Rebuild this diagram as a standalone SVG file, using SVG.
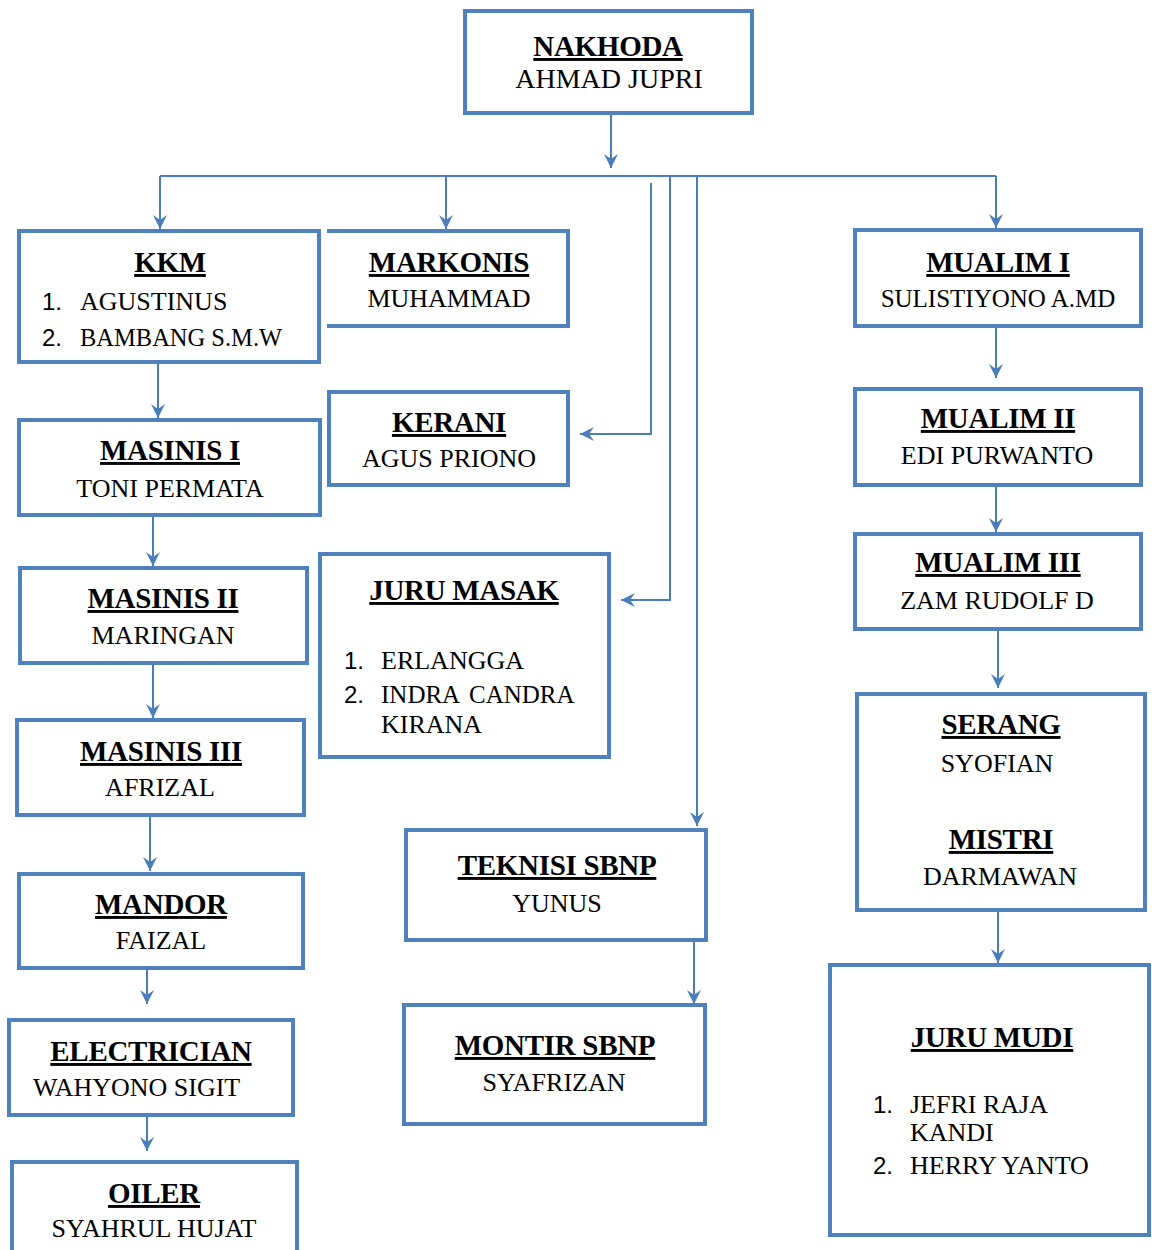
<svg xmlns="http://www.w3.org/2000/svg" width="1152" height="1250" viewBox="0 0 1152 1250">
<style>
.box{fill:#fff;stroke:#4F81BD;stroke-width:4}
.conn{fill:none;stroke:#4A7EBB;stroke-width:2}
.title{font-family:"Liberation Serif",serif;font-weight:bold;font-size:29px;text-anchor:middle;text-decoration:underline;text-decoration-thickness:3px;fill:#000;letter-spacing:-0.3px}
.name{font-family:"Liberation Serif",serif;font-size:26px;fill:#000}
.c{text-anchor:middle}
.num{font-family:"Liberation Sans",sans-serif;font-size:24px;fill:#000}
</style>
<defs>
<marker id="arr" markerUnits="userSpaceOnUse" markerWidth="16" markerHeight="16" refX="14" refY="7" orient="auto">
<path d="M0,0 L14,7 L0,14 L5,7 Z" fill="#4A7EBB"/>
</marker>
</defs>
<rect width="1152" height="1250" fill="#fff"/>
<g id="connectors">
<path class="conn" d="M611,113 V168" marker-end="url(#arr)"/>
<path class="conn" d="M160,176 H996"/>
<path class="conn" d="M160,176 V229" marker-end="url(#arr)"/>
<path class="conn" d="M446,176 V229" marker-end="url(#arr)"/>
<path class="conn" d="M651,183 V434 H580" marker-end="url(#arr)"/>
<path class="conn" d="M670,176 V600 H621" marker-end="url(#arr)"/>
<path class="conn" d="M697,176 V826" marker-end="url(#arr)"/>
<path class="conn" d="M996,176 V228" marker-end="url(#arr)"/>
<path class="conn" d="M158,363 V418" marker-end="url(#arr)"/>
<path class="conn" d="M153,512 V566" marker-end="url(#arr)"/>
<path class="conn" d="M153,664 V718" marker-end="url(#arr)"/>
<path class="conn" d="M150,812 V871" marker-end="url(#arr)"/>
<path class="conn" d="M147,960 V1004" marker-end="url(#arr)"/>
<path class="conn" d="M147,1105 V1151" marker-end="url(#arr)"/>
<path class="conn" d="M694,934 V1004" marker-end="url(#arr)"/>
<path class="conn" d="M996,322 V378" marker-end="url(#arr)"/>
<path class="conn" d="M996,478 V532" marker-end="url(#arr)"/>
<path class="conn" d="M998,631 V688" marker-end="url(#arr)"/>
<path class="conn" d="M998,912 V963" marker-end="url(#arr)"/>
</g>
<g id="nakhoda">
<rect class="box" x="465" y="11" width="287" height="102"/>
<text class="title" x="608" y="56">NAKHODA</text>
<text class="name c" x="609" y="88" style="font-size:28px">AHMAD JUPRI</text>
</g>
<g id="kkm">
<rect class="box" x="19" y="231" width="300" height="131"/>
<text class="title" x="170" y="272">KKM</text>
<text class="num" x="42" y="310">1.</text>
<text class="name" x="80" y="310">AGUSTINUS</text>
<text class="num" x="42" y="346">2.</text>
<text class="name" x="80" y="346" style="font-size:24.5px">BAMBANG S.M.W</text>
</g>
<g id="markonis">
<path class="box" d="M327,231 H568 V326 H327"/>
<text class="title" x="449" y="272">MARKONIS</text>
<text class="name c" x="449" y="307">MUHAMMAD</text>
</g>
<g id="kerani">
<rect class="box" x="329" y="392" width="239" height="93"/>
<text class="title" x="449" y="432">KERANI</text>
<text class="name c" x="449" y="467">AGUS PRIONO</text>
</g>
<g id="masinis1">
<rect class="box" x="19" y="420" width="301" height="95"/>
<text class="title" x="170" y="460">MASINIS I</text>
<text class="name c" x="170" y="497">TONI PERMATA</text>
</g>
<g id="masinis2">
<rect class="box" x="20" y="568" width="287" height="95"/>
<text class="title" x="163" y="608">MASINIS II</text>
<text class="name c" x="163" y="644">MARINGAN</text>
</g>
<g id="masinis3">
<rect class="box" x="17" y="720" width="287" height="95"/>
<text class="title" x="161" y="761">MASINIS III</text>
<text class="name c" x="160" y="796">AFRIZAL</text>
</g>
<g id="mandor">
<rect class="box" x="19" y="874" width="284" height="94"/>
<text class="title" x="161" y="914">MANDOR</text>
<text class="name c" x="161" y="949">FAIZAL</text>
</g>
<g id="electrician">
<rect class="box" x="9" y="1020" width="284" height="95"/>
<text class="title" x="151" y="1061">ELECTRICIAN</text>
<text class="name" x="33" y="1096">WAHYONO SIGIT</text>
</g>
<g id="oiler">
<rect class="box" x="12" y="1162" width="285" height="100"/>
<text class="title" x="154" y="1203">OILER</text>
<text class="name c" x="154" y="1237">SYAHRUL HUJAT</text>
</g>
<g id="juru-masak">
<rect class="box" x="320" y="554" width="289" height="203"/>
<text class="title" x="464" y="600">JURU MASAK</text>
<text class="num" x="344" y="669">1.</text>
<text class="name" x="381" y="669">ERLANGGA</text>
<text class="num" x="344" y="703">2.</text>
<text class="name" x="381" y="703" style="word-spacing:4px;font-size:25px">INDRA CANDRA</text>
<text class="name" x="381" y="733">KIRANA</text>
</g>
<g id="teknisi-sbnp">
<rect class="box" x="406" y="830" width="300" height="110"/>
<text class="title" x="557" y="875">TEKNISI SBNP</text>
<text class="name c" x="557" y="912">YUNUS</text>
</g>
<g id="montir-sbnp">
<rect class="box" x="404" y="1005" width="301" height="119"/>
<text class="title" x="555" y="1055">MONTIR SBNP</text>
<text class="name c" x="554" y="1091">SYAFRIZAN</text>
</g>
<g id="mualim1">
<rect class="box" x="855" y="230" width="286" height="96"/>
<text class="title" x="998" y="272">MUALIM I</text>
<text class="name c" x="998" y="307" style="font-size:25px">SULISTIYONO A.MD</text>
</g>
<g id="mualim2">
<rect class="box" x="855" y="389" width="286" height="96"/>
<text class="title" x="998" y="428">MUALIM II</text>
<text class="name c" x="997" y="464">EDI PURWANTO</text>
</g>
<g id="mualim3">
<rect class="box" x="855" y="534" width="286" height="95"/>
<text class="title" x="998" y="572">MUALIM III</text>
<text class="name c" x="997" y="609">ZAM RUDOLF D</text>
</g>
<g id="serang-mistri">
<rect class="box" x="857" y="694" width="288" height="216"/>
<text class="title" x="1001" y="734">SERANG</text>
<text class="name c" x="997" y="772">SYOFIAN</text>
<text class="title" x="1001" y="849">MISTRI</text>
<text class="name c" x="1000" y="885">DARMAWAN</text>
</g>
<g id="juru-mudi">
<rect class="box" x="830" y="965" width="319" height="270"/>
<text class="title" x="992" y="1047">JURU MUDI</text>
<text class="num" x="873" y="1113">1.</text>
<text class="name" x="910" y="1113">JEFRI RAJA</text>
<text class="name" x="910" y="1141">KANDI</text>
<text class="num" x="873" y="1174">2.</text>
<text class="name" x="910" y="1174">HERRY YANTO</text>
</g>
</svg>
